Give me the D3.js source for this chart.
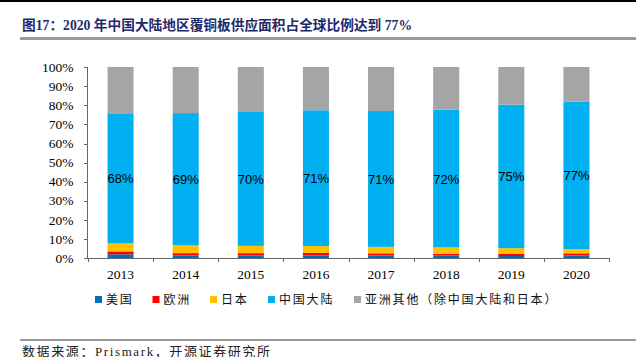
<!DOCTYPE html>
<html><head><meta charset="utf-8">
<script src="https://cdn.jsdelivr.net/npm/d3@7"></script>
<style>body{margin:0;background:#fff}svg{display:block}</style>
</head><body>
<script>
const years = ["2013","2014","2015","2016","2017","2018","2019","2020"];
const usa    = [2.1, 1.5, 1.5, 1.5, 1.5, 1.4, 1.2, 1.5];
const europe = [1.5, 1.2, 1.2, 1.3, 1.1, 0.9, 1.2, 1.1];
const japan  = [4.2, 4.2, 3.8, 3.6, 3.4, 3.4, 2.9, 2.2];
const china  = [68, 69, 70, 71, 71, 72, 75, 77];
const seriesNames = ["美国","欧洲","日本","中国大陆","亚洲其他（除中国大陆和日本）"];
const colors = ["#0070C0","#FF0000","#FFC000","#00B0F0","#A5A5A5"];
const yTicks = [0,10,20,30,40,50,60,70,80,90,100];
const title = "图17：2020 年中国大陆地区覆铜板供应面积占全球比例达到 77%";
const source = "数据来源：Prismark，开源证券研究所";

const W=636,H=357;
const svg=d3.select("body").append("svg").attr("width",W).attr("height",H);

const other = years.map((_,i)=>100-usa[i]-europe[i]-japan[i]-china[i]);
const table = years.map((y,i)=>({year:y, s0:usa[i], s1:europe[i], s2:japan[i], s3:china[i], s4:other[i]}));
const keys=["s0","s1","s2","s3","s4"];
const stack=d3.stack().keys(keys)(table);

const x=d3.scaleBand().domain(years).range([88,609]).paddingInner(0.6).paddingOuter(0.3);
const y=d3.scaleLinear().domain([0,100]).range([258.3,67]);

// frame lines
svg.append("rect").attr("x",0).attr("y",0).attr("width",W).attr("height",2).attr("fill","#000");
svg.append("rect").attr("x",20).attr("y",37).attr("width",W-20).attr("height",3).attr("fill","#999");
svg.append("rect").attr("x",20).attr("y",339.5).attr("width",W-20).attr("height",1).attr("fill","#333");

svg.append("text").attr("x",22).attr("y",30).text(title)
  .attr("font-family","'Liberation Serif','Noto Sans CJK SC',serif").attr("font-weight","bold")
  .attr("font-size",13.7).attr("fill","#1F2A6B");

svg.append("text").attr("x",22).attr("y",355.5).text(source)
  .attr("font-family","'Liberation Serif','Noto Sans CJK SC',serif")
  .attr("font-size",13).attr("letter-spacing",1.6).attr("fill","#222");

// bars
const g=svg.append("g");
stack.forEach((layer,k)=>{
  g.selectAll(null).data(layer).enter().append("rect")
    .attr("x",d=>x(d.data.year)).attr("width",x.bandwidth())
    .attr("y",d=>y(d[1])).attr("height",d=>y(d[0])-y(d[1]))
    .attr("fill",colors[k]);
});
// labels on china segment
g.selectAll(null).data(stack[3]).enter().append("text")
  .attr("x",d=>x(d.data.year)+x.bandwidth()/2)
  .attr("y",d=>y((d[0]+d[1])/2)+5)
  .attr("text-anchor","middle").attr("font-family","'Liberation Sans',Arial,sans-serif")
  .attr("font-size",13).attr("fill","#000")
  .text((d,i)=>china[i]+"%");

// axes
const ax=svg.append("g").attr("font-family","'Liberation Serif',serif");
ax.append("line").attr("x1",87.5).attr("x2",87.5).attr("y1",y(100)).attr("y2",y(0)).attr("stroke","#666");
ax.selectAll(null).data(yTicks).enter().append("line")
  .attr("x1",84).attr("x2",88).attr("y1",d=>Math.round(y(d))+0.5).attr("y2",d=>Math.round(y(d))+0.5).attr("stroke","#666");
ax.selectAll(null).data(yTicks).enter().append("text")
  .attr("x",73.5).attr("y",d=>y(d)+4.5).attr("text-anchor","end").attr("font-size",13.5).attr("fill","#000")
  .text(d=>d+"%");
ax.append("line").attr("x1",87).attr("x2",609.5).attr("y1",258.5).attr("y2",258.5).attr("stroke","#666");
const bounds=years.map(yr=>x(yr)-x.step()*x.paddingInner()/2).concat([609]);
ax.selectAll(null).data(bounds).enter().append("line")
  .attr("x1",d=>Math.round(d)+0.5).attr("x2",d=>Math.round(d)+0.5).attr("y1",258).attr("y2",262).attr("stroke","#666");
ax.selectAll(null).data(years).enter().append("text")
  .attr("x",d=>x(d)+x.bandwidth()/2).attr("y",279).attr("text-anchor","middle")
  .attr("font-size",13.5).attr("fill","#000").text(d=>d);

// legend
const legX=[95,152.5,210,268,354];
const leg=svg.append("g");
seriesNames.forEach((n,i)=>{
  leg.append("rect").attr("x",legX[i]).attr("y",296).attr("width",7).attr("height",7).attr("fill",colors[i]);
  leg.append("text").attr("x",legX[i]+11).attr("y",304).text(n)
    .attr("font-family","'Noto Sans CJK SC',sans-serif").attr("font-size",12)
    .attr("letter-spacing",1.8).attr("fill","#111");
});
</script>
</body></html>
